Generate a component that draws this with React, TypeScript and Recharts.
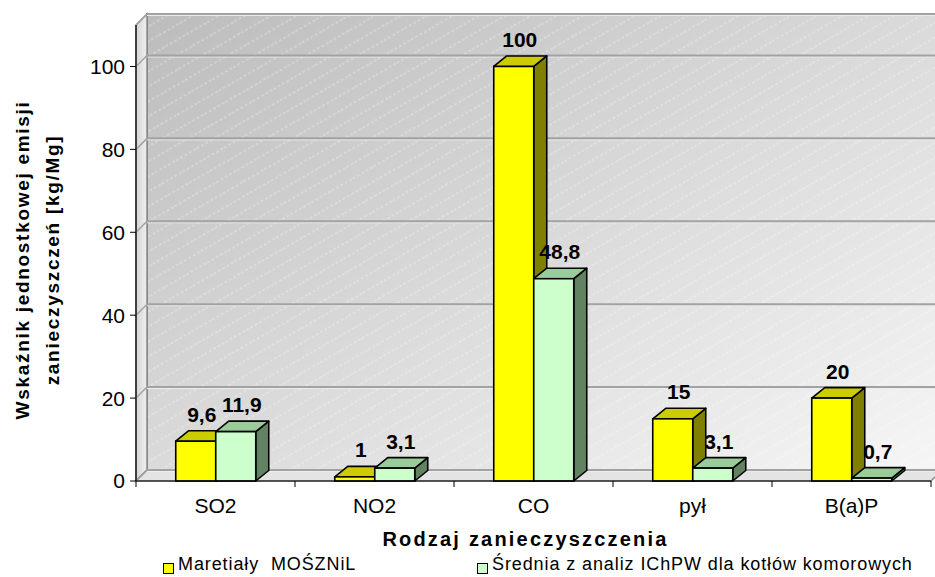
import React from 'react';
import { BarChart, Bar, XAxis, YAxis, CartesianGrid, LabelList, Legend, Label } from 'recharts';

const categories = ['SO2', 'NO2', 'CO', 'pył', 'B(a)P'];
const materialy = [9.6, 1, 100, 15, 20];
const srednia = [11.9, 3.1, 48.8, 3.1, 0.7];
const yTicks = [0, 20, 40, 60, 80, 100];
const seriesNames = ['Maretiały  MOŚZNiL', 'Średnia z analiz IChPW dla kotłów komorowych'];
const xTitle = 'Rodzaj zanieczyszczenia';
const yTitle = ['Wskaźnik jednostkowej emisji', 'zanieczyszczeń [kg/Mg]'];

const data = categories.map((c, i) => ({ name: c, a: materialy[i], b: srednia[i] }));

const FONT = '"Liberation Sans", Arial, sans-serif';
const WDX = 11;
const WDY = -11;
const BDX = 13;
const BDY = -10.5;

const gridLine = (p: any) => {
  const { x1, y1, x2, index } = p;
  const left = p.x ?? x1;
  const top = p.y;
  const w = p.width ?? x2 - x1;
  const h = p.height;
  return (
    <g key={`gl-${index}`}>
      {index === 0 && top !== undefined && h !== undefined && (
        <g>
          <defs>
            <linearGradient id="wallGrad" x1="0" y1="0" x2="1" y2="1">
              <stop offset="0" stopColor="#BCBCBC" />
              <stop offset="0.5" stopColor="#DADADA" />
              <stop offset="1" stopColor="#F6F6F6" />
            </linearGradient>
            <pattern id="hatch" patternUnits="userSpaceOnUse" width="24" height="13" patternTransform="rotate(-30)">
              <line x1="0" y1="6" x2="24" y2="6" stroke="#FFFFFF" strokeOpacity="0.45" strokeWidth="1" strokeDasharray="3 2" />
            </pattern>
            <linearGradient id="sideGrad" x1="0" y1="0" x2="1" y2="0">
              <stop offset="0" stopColor="#D4D4D4" />
              <stop offset="1" stopColor="#F0F0F0" />
            </linearGradient>
          </defs>
          <rect x={left + WDX} y={top + WDY} width={w} height={h} fill="url(#wallGrad)" />
          <rect x={left + WDX} y={top + WDY} width={w} height={h} fill="url(#hatch)" />
          <rect x={left + WDX} y={top + WDY} width={w} height={h} fill="none" stroke="#858585" strokeWidth={2} />
          <polygon
            points={`${left},${top + h} ${left + WDX},${top + h + WDY} ${left + WDX},${top + WDY} ${left},${top}`}
            fill="url(#sideGrad)"
            stroke="#8A8A8A"
            strokeWidth={1.5}
          />
          <polygon
            points={`${left},${top + h} ${left + w},${top + h} ${left + w + WDX},${top + h + WDY} ${left + WDX},${top + h + WDY}`}
            fill="#E4E4E4"
            stroke="#8A8A8A"
            strokeWidth={1.5}
          />
        </g>
      )}
      <line x1={x1 + WDX} y1={y1 + WDY + 1.5} x2={x2 + WDX} y2={y1 + WDY + 1.5} stroke="#EDEDED" strokeWidth={1} />
      <line x1={x1 + WDX} y1={y1 + WDY} x2={x2 + WDX} y2={y1 + WDY} stroke="#A2A2A2" strokeWidth={2} />
      <line x1={x1} y1={y1} x2={x1 + WDX} y2={y1 + WDY} stroke="#A2A2A2" strokeWidth={1.5} />
    </g>
  );
};

const Bar3D = (p: any) => {
  const { x, y, width, height, fill, top, side } = p;
  if (x === undefined || y === undefined) return null;
  const sw = 1.6;
  return (
    <g>
      <polygon
        points={`${x + width},${y} ${x + width + BDX},${y + BDY} ${x + width + BDX},${y + height + BDY} ${x + width},${y + height}`}
        fill={side}
        stroke="#000"
        strokeWidth={sw}
        strokeLinejoin="round"
      />
      <polygon
        points={`${x},${y} ${x + BDX},${y + BDY} ${x + width + BDX},${y + BDY} ${x + width},${y}`}
        fill={top}
        stroke="#000"
        strokeWidth={sw}
        strokeLinejoin="round"
      />
      <rect x={x} y={y} width={width} height={height} fill={fill} stroke="#000" strokeWidth={sw} />
    </g>
  );
};

const valueLabel = (p: any) => {
  const vb = p.viewBox || p;
  const x = vb.x ?? p.x;
  const y = vb.y ?? p.y;
  const w = vb.width ?? p.width;
  if (x === undefined) return null;
  const txt = String(p.value).replace('.', ',');
  return (
    <text
      x={x + w / 2 + 6}
      y={y + BDY - 9}
      textAnchor="middle"
      fontFamily={FONT}
      fontWeight="bold"
      fontSize={21}
      fill="#000"
    >
      {txt}
    </text>
  );
};

const XTick = (p: any) => {
  const { x, y, payload, index } = p;
  const half = payload && payload.offset ? payload.offset : (p.width || 795) / categories.length / 2;
  return (
    <g>
      <line x1={x - half} y1={y} x2={x - half} y2={y + 6} stroke="#000" strokeWidth={1} />
      {index === categories.length - 1 && (
        <line x1={x + half} y1={y} x2={x + half} y2={y + 6} stroke="#000" strokeWidth={1} />
      )}
      <text x={x} y={y + 17} dy="0.71em" textAnchor="middle" fontFamily={FONT} fontSize={21} fill="#000">
        {payload.value}
      </text>
    </g>
  );
};

const XTitle = (p: any) => {
  const vb = p.viewBox;
  if (!vb) return null;
  return (
    <text
      x={vb.x + vb.width / 2 - 8}
      y={vb.y + 65}
      textAnchor="middle"
      fontFamily={FONT}
      fontWeight="bold"
      fontSize={20}
      letterSpacing={2.2}
      fill="#000"
    >
      {xTitle}
    </text>
  );
};

const YTitle = (p: any) => {
  const vb = p.viewBox;
  if (!vb) return null;
  const cy = vb.y + vb.height / 2 + 7;
  const xs = [vb.x + 29, vb.x + 59];
  return (
    <g>
      {yTitle.map((t, i) => (
        <text
          key={i}
          x={xs[i]}
          y={cy}
          transform={`rotate(-90 ${xs[i]} ${cy})`}
          textAnchor="middle"
          fontFamily={FONT}
          fontWeight="bold"
          fontSize={19}
          letterSpacing={1.7}
          fill="#000"
        >
          {t}
        </text>
      ))}
    </g>
  );
};

const legendFills = [
  { fill: '#FFFF00', left: 163, textLeft: 178 },
  { fill: '#CCFFCC', left: 477, textLeft: 492 },
];

const LegendContent = (p: any) => {
  const payload = p.payload || [];
  return (
    <div style={{ position: 'relative', width: 935, height: 22, fontFamily: FONT }}>
      {payload.map((it: any, i: number) => {
        const s = legendFills[i] || legendFills[0];
        return (
          <React.Fragment key={i}>
            <div
              style={{
                position: 'absolute',
                left: s.left,
                top: 9,
                width: 9,
                height: 9,
                background: s.fill,
                border: '1.5px solid #000',
              }}
            />
            <div
              style={{
                position: 'absolute',
                left: s.textLeft,
                top: 0,
                fontSize: 18,
                lineHeight: '21px',
                letterSpacing: 0.9,
                whiteSpace: 'pre',
                color: '#000',
              }}
            >
              {it.value}
            </div>
          </React.Fragment>
        );
      })}
    </div>
  );
};

export default function App() {
  return (
    <div style={{ position: 'absolute', left: 0, top: 0, width: 935, height: 577, background: '#fff', overflow: 'hidden' }}>
      <BarChart
        width={935}
        height={577}
        data={data}
        margin={{ top: 25, right: 4, left: 0, bottom: 0 }}
        barCategoryGap="25%"
        barGap={0}
      >
        <CartesianGrid vertical={false} horizontal={gridLine} />
        <XAxis
          dataKey="name"
          height={96}
          axisLine={{ stroke: '#000', strokeWidth: 1.2 }}
          tickLine={false}
          tickSize={0}
          tickMargin={0}
          tick={<XTick />}
          interval={0}
        >
          <Label content={<XTitle />} />
        </XAxis>
        <YAxis
          width={136}
          domain={[0, 110]}
          ticks={yTicks}
          allowDataOverflow={false}
          axisLine={{ stroke: '#000', strokeWidth: 1.2 }}
          tickLine={{ stroke: '#000' }}
          tickSize={6}
          tickMargin={5}
          tick={{ fontFamily: FONT, fontSize: 21, fill: '#000' }}
        >
          <Label content={<YTitle />} />
        </YAxis>
        <Legend
          layout="horizontal"
          verticalAlign="middle"
          align="center"
          wrapperStyle={{ left: 0, top: 554, width: 935, height: 22 }}
          content={<LegendContent />}
        />
        <Bar
          dataKey="a"
          name={seriesNames[0]}
          fill="#FFFF00"
          isAnimationActive={false}
          shape={(p: any) => <Bar3D {...p} top="#CCCC00" side="#808000" />}
        >
          <LabelList dataKey="a" content={valueLabel} />
        </Bar>
        <Bar
          dataKey="b"
          name={seriesNames[1]}
          fill="#CCFFCC"
          isAnimationActive={false}
          shape={(p: any) => <Bar3D {...p} top="#99CC99" side="#628262" />}
        >
          <LabelList dataKey="b" content={valueLabel} />
        </Bar>
      </BarChart>
    </div>
  );
}
